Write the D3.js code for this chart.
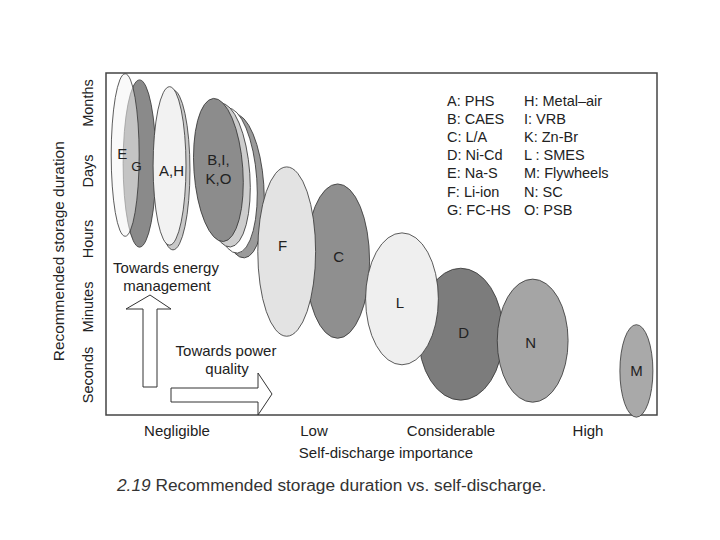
<!DOCTYPE html>
<html>
<head>
<meta charset="utf-8">
<script src="https://cdn.jsdelivr.net/npm/d3@7"></script>
<style>
  body { margin: 0; background: #fff; }
  text { font-family: "Liberation Sans", Arial, sans-serif; fill: #222; }
</style>
</head>
<body>
<svg id="chart" width="720" height="540"></svg>
<script>
// axis categories
const durations = ['Seconds', 'Minutes', 'Hours', 'Days', 'Months'];
const dischargeLevels = ['Negligible', 'Low', 'Considerable', 'High'];

// one ellipse per technology, drawn back to front
// ranges in category units (0 = first category)
const techIds     = ['G', 'E', 'H', 'A', 'O', 'K', 'I', 'B', 'C', 'F', 'D', 'N', 'L', 'M'];
const dischargeLo = [-0.386, -0.473, -0.146, -0.167, 0.284, 0.233, 0.182, 0.131, 0.947, 0.597, 1.769, 2.345, 1.384, 3.240];
const dischargeHi = [-0.146, -0.269, 0.102, 0.073, 0.641, 0.590, 0.539, 0.488, 1.413, 1.019, 2.388, 2.862, 1.915, 3.481];
const durationLo  = [1.88, 2.04, 1.84, 1.91, 1.72, 1.79, 1.88, 1.96, 0.54, 0.57, -0.37, -0.40, 0.15, -0.62];
const durationHi  = [4.34, 4.43, 4.19, 4.24, 3.84, 3.93, 4.00, 4.07, 2.81, 3.06, 1.57, 1.41, 2.09, 0.74];

const legendLeft  = ['A: PHS', 'B: CAES', 'C: L/A', 'D: Ni-Cd', 'E: Na-S', 'F: Li-ion', 'G: FC-HS'];
const legendRight = ['H: Metal\u2013air', 'I: VRB', 'K: Zn-Br', 'L : SMES', 'M: Flywheels', 'N: SC', 'O: PSB'];

const svg = d3.select('#chart');
const frame = { left: 106, top: 73, right: 657, bottom: 415 };

const x = d3.scaleLinear().domain([0, 3]).range([176, 587]);
const y = d3.scaleLinear().domain([0, 4]).range([375, 103]);

const fill = d3.scaleOrdinal()
  .domain(techIds)
  .range(['#8a8a8a', '#f4f4f4', '#c8c8c8', '#f2f2f2', '#9a9a9a', '#ffffff', '#cdcdcd',
          '#8c8c8c', '#8f8f8f', '#e3e3e3', '#7c7c7c', '#a5a5a5', '#efefef', '#a9a9a9']);

const techs = techIds.map((id, i) => ({
  id,
  x0: dischargeLo[i], x1: dischargeHi[i],
  y0: durationLo[i], y1: durationHi[i]
}));

// frame
svg.append('rect')
  .attr('x', frame.left).attr('y', frame.top)
  .attr('width', frame.right - frame.left).attr('height', frame.bottom - frame.top)
  .attr('fill', 'none').attr('stroke', '#444').attr('stroke-width', 1.5);

const tilted = new Set(['O', 'K', 'I', 'B']);

svg.append('g').selectAll('ellipse')
  .data(techs)
  .join('ellipse')
  .attr('cx', d => (x(d.x0) + x(d.x1)) / 2)
  .attr('cy', d => (y(d.y0) + y(d.y1)) / 2)
  .attr('rx', d => (x(d.x1) - x(d.x0)) / 2)
  .attr('ry', d => (y(d.y0) - y(d.y1)) / 2)
  .attr('transform', d => tilted.has(d.id)
    ? `rotate(-4,${(x(d.x0) + x(d.x1)) / 2},${(y(d.y0) + y(d.y1)) / 2})` : null)
  .attr('fill', d => fill(d.id))
  .attr('fill-opacity', d => d.id === 'E' ? 0.55 : 1)
  .attr('stroke', '#333')
  .attr('stroke-width', 0.8);

// labels inside ellipses
const labelText = { E: ['E'], G: ['G'], A: ['A,H'], B: ['B,I,', 'K,O'], C: ['C'], F: ['F'],
                    D: ['D'], N: ['N'], L: ['L'], M: ['M'] };
const labelShift = { E: [-3, -1], G: [-3, 2], A: [2, 5], F: [-4, -6], C: [1, -4], L: [-2, 4], D: [3, -1], N: [-2, 2] };

techs.filter(d => labelText[d.id]).forEach(d => {
  const cx = (x(d.x0) + x(d.x1)) / 2 + (labelShift[d.id] ? labelShift[d.id][0] : 0);
  const cy = (y(d.y0) + y(d.y1)) / 2 + (labelShift[d.id] ? labelShift[d.id][1] : 0);
  const lines = labelText[d.id];
  const t = svg.append('text')
    .attr('text-anchor', 'middle')
    .attr('font-size', d.id === 'G' ? 13.5 : 15);
  lines.forEach((s, i) => {
    t.append('tspan')
      .attr('x', cx)
      .attr('y', cy + 5 + (i - (lines.length - 1) / 2) * 19)
      .text(s);
  });
});

// y axis tick labels (rotated)
svg.append('g').selectAll('text')
  .data(durations)
  .join('text')
  .attr('transform', (d, i) => `translate(93,${y(i)}) rotate(-90)`)
  .attr('text-anchor', 'middle')
  .attr('font-size', 14.5)
  .text(d => d);

svg.append('text')
  .attr('transform', `translate(63.5,${y(1.82)}) rotate(-90)`)
  .attr('text-anchor', 'middle')
  .attr('font-size', 15.4)
  .text('Recommended storage duration');

// x axis tick labels
svg.append('g').selectAll('text')
  .data(dischargeLevels)
  .join('text')
  .attr('x', (d, i) => x(i) + 1)
  .attr('y', 436)
  .attr('text-anchor', 'middle')
  .attr('font-size', 15)
  .text(d => d);

svg.append('text')
  .attr('x', 386).attr('y', 458)
  .attr('text-anchor', 'middle')
  .attr('font-size', 15)
  .text('Self-discharge importance');

// legend
[legendLeft, legendRight].forEach((col, c) => {
  svg.append('g').selectAll('text')
    .data(col)
    .join('text')
    .attr('x', c === 0 ? 447 : 524)
    .attr('y', (d, i) => 106 + i * 18.1)
    .attr('font-size', 14.5)
    .text(d => d);
});

// annotation arrows
const upArrow = [
  [143, 387], [143, 309], [126, 309], [150, 295], [171, 309], [157, 309], [157, 387]
];
const rightArrow = [
  [171, 388], [258, 388], [258, 373], [272, 394], [258, 415], [258, 402], [171, 402]
];
[upArrow, rightArrow].forEach(pts => {
  svg.append('path')
    .attr('d', d3.line()(pts) + 'Z')
    .attr('fill', '#fff')
    .attr('stroke', '#333')
    .attr('stroke-width', 1);
});

svg.append('text').attr('x', 166).attr('y', 273).attr('text-anchor', 'middle')
  .attr('font-size', 15).text('Towards energy');
svg.append('text').attr('x', 167).attr('y', 291).attr('text-anchor', 'middle')
  .attr('font-size', 15).text('management');
svg.append('text').attr('x', 226).attr('y', 356).attr('text-anchor', 'middle')
  .attr('font-size', 15).text('Towards power');
svg.append('text').attr('x', 227).attr('y', 374).attr('text-anchor', 'middle')
  .attr('font-size', 15).text('quality');

// caption
const cap = svg.append('text').attr('x', 117).attr('y', 491).attr('font-size', 17.3).style('fill', '#333');
cap.append('tspan').attr('font-style', 'italic').text('2.19');
cap.append('tspan').text(' Recommended storage duration vs. self-discharge.');
</script>
</body>
</html>
